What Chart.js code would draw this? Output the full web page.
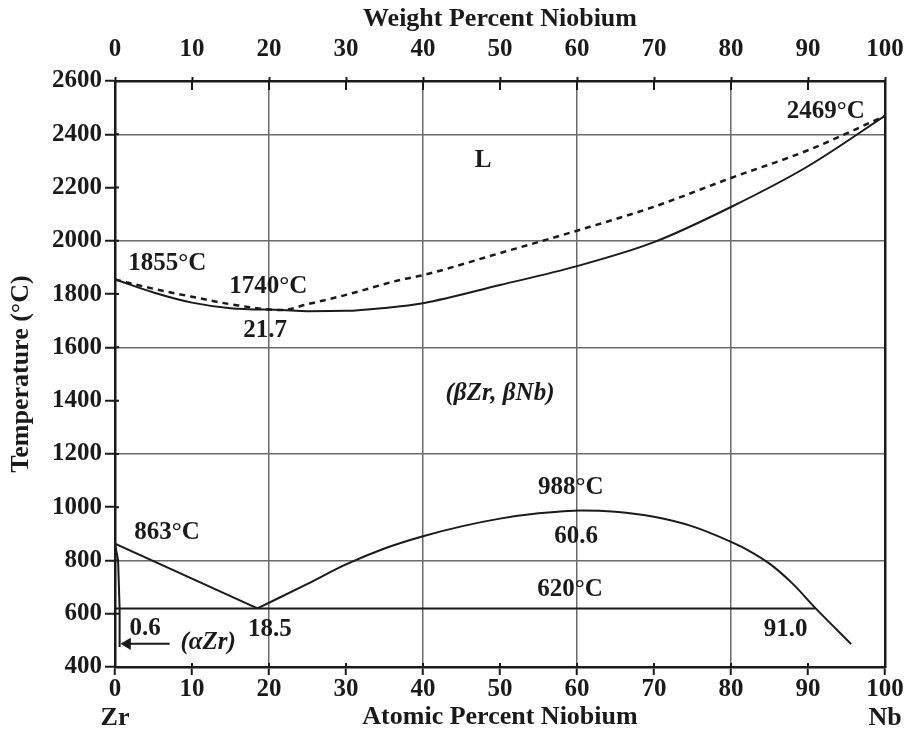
<!DOCTYPE html>
<html>
<head>
<meta charset="utf-8">
<title>Zr-Nb phase diagram</title>
<script src="https://cdn.jsdelivr.net/npm/chart.js@4.4.1/dist/chart.umd.min.js"></script>
<style>
  html, body { margin: 0; padding: 0; background: #fff; }
  #wrap { width: 907px; height: 735px; }
</style>
</head>
<body>
<div id="wrap"><canvas id="phaseChart" width="907" height="735"></canvas></div>
<script>
// atomic percent Nb / temperature in °C
const liquidusX = [0, 5, 10, 15, 21.7, 25, 30, 37, 40, 50, 60, 70, 80, 90, 100];
const liquidusT = [1855, 1820, 1790, 1762, 1740, 1762, 1797, 1853, 1871, 1954, 2038, 2128, 2236, 2340, 2469];

const solidusX = [0, 5, 10, 15, 21.7, 25, 30, 35, 40, 50, 60, 70, 80, 90, 100];
const solidusT = [1855, 1806, 1768, 1747, 1740, 1736, 1737, 1748, 1766, 1834, 1905, 1995, 2127, 2280, 2469];

const betaZrX = [0, 18.5];
const betaZrT = [863, 620];

const domeX = [18.5, 25, 30, 35, 40, 45, 50, 55, 60.6, 65, 70, 75, 80, 82, 85, 88, 91, 95.6];
const domeT = [620, 712, 785, 845, 891, 928, 957, 977, 988, 983, 964, 928, 870, 842, 788, 713, 620, 486];

const alphaZrX = [0, 0.4, 0.6, 0.6];
const alphaZrT = [863, 800, 620, 475];

const eutectoidX = [0, 91.0];
const eutectoidT = [620, 620];

const arrowX = [7.1, 1.6];
const arrowT = [487, 487];

const tickStepX = 10;
const tickStepT = 200;
const gridX = [20, 40, 60, 80];
const gridT = [800, 1200, 1600, 2000, 2400];

// text placed on the diagram, in data units
const notes = [
  { text: 'L', x: 47.8, y: 2303 },
  { text: '2469°C', x: 92.3, y: 2484 },
  { text: '1855°C', x: 6.8, y: 1915 },
  { text: '1740°C', x: 19.9, y: 1830 },
  { text: '21.7', x: 19.5, y: 1665 },
  { text: '(βZr, βNb)', x: 50, y: 1425, italic: true, size: 25 },
  { text: '988°C', x: 59.2, y: 1075 },
  { text: '60.6', x: 59.9, y: 891 },
  { text: '620°C', x: 59.1, y: 689 },
  { text: '91.0', x: 87.1, y: 542 },
  { text: '863°C', x: 6.75, y: 906 },
  { text: '18.5', x: 20.1, y: 542 },
  { text: '0.6', x: 3.9, y: 546 },
  { text: '(αZr)', x: 12.1, y: 490, italic: true, size: 25 }
];

const SERIF = '"Liberation Serif", "Times New Roman", Times, serif';
const INK = '#1a1a1a';
const GRID = '#6a6a6a';

const pts = (xs, ys) => xs.map((x, i) => ({ x: x, y: ys[i] }));

function curve(data, extra) {
  return Object.assign({
    data: data,
    borderColor: INK,
    borderWidth: 2,
    pointRadius: 0,
    fill: false,
    cubicInterpolationMode: 'monotone'
  }, extra || {});
}

const tickFont = { family: SERIF, size: 25, weight: 'bold' };
const titleFont = { family: SERIF, size: 26, weight: 'bold' };
const plainNumber = v => String(v);

// tick stubs that poke into the plot area
const innerTicks = {
  id: 'innerTicks',
  afterDraw(chart) {
    const { ctx, chartArea: a, scales } = chart;
    ctx.save();
    ctx.strokeStyle = INK;
    ctx.lineWidth = 2;
    ctx.beginPath();
    scales.x.ticks.forEach(t => {
      const px = scales.x.getPixelForValue(t.value);
      ctx.moveTo(px, a.bottom);
      ctx.lineTo(px, a.bottom - 4);
    });
    scales.x2.ticks.forEach(t => {
      const px = scales.x2.getPixelForValue(t.value);
      ctx.moveTo(px, a.top);
      ctx.lineTo(px, a.top + 9);
    });
    scales.y.ticks.forEach(t => {
      const py = scales.y.getPixelForValue(t.value);
      ctx.moveTo(a.left, py);
      ctx.lineTo(a.left + 4, py);
    });
    ctx.stroke();
    ctx.restore();
  }
};

// region and point labels, plus the element names under the axis ends
const noteLabels = {
  id: 'noteLabels',
  afterDraw(chart) {
    const { ctx, scales } = chart;
    ctx.save();
    ctx.fillStyle = INK;
    ctx.textAlign = 'center';
    ctx.textBaseline = 'middle';
    notes.forEach(n => {
      ctx.font = (n.italic ? 'italic ' : '') + 'bold ' + (n.size || 25) + 'px ' + SERIF;
      ctx.fillText(n.text, scales.x.getPixelForValue(n.x), scales.y.getPixelForValue(n.y));
    });
    ctx.font = 'bold 26px ' + SERIF;
    const yName = scales.x.bottom - 17;
    ctx.fillText('Zr', scales.x.getPixelForValue(0), yName);
    ctx.fillText('Nb', scales.x.getPixelForValue(100), yName);
    ctx.restore();
  }
};

const xGridColor = c => gridX.includes(c.tick.value) ? GRID : 'rgba(0,0,0,0)';
const yGridColor = c => gridT.includes(c.tick.value) ? GRID : 'rgba(0,0,0,0)';

// let the end labels hang past the plot instead of shrinking it
function fitHorizontal(h) {
  return s => { s.height = h; s.paddingLeft = 0; s.paddingRight = 0; };
}

new Chart(document.getElementById('phaseChart'), {
  type: 'line',
  data: {
    datasets: [
      curve(pts(liquidusX, liquidusT), { borderDash: [6, 5], borderWidth: 2.5 }),
      curve(pts(solidusX, solidusT)),
      curve(pts(betaZrX, betaZrT), { cubicInterpolationMode: 'default', tension: 0 }),
      curve(pts(domeX, domeT)),
      curve(pts(alphaZrX, alphaZrT), { cubicInterpolationMode: 'default', tension: 0 }),
      curve(pts(eutectoidX, eutectoidT), { cubicInterpolationMode: 'default', tension: 0 }),
      curve(pts(arrowX, arrowT), {
        cubicInterpolationMode: 'default', tension: 0,
        pointRadius: [0, 5], pointStyle: 'triangle', rotation: -90,
        pointBackgroundColor: INK, pointBorderColor: INK
      })
    ]
  },
  options: {
    responsive: false,
    animation: false,
    layout: { padding: 0 },
    plugins: { legend: { display: false }, tooltip: { enabled: false } },
    scales: {
      x: {
        type: 'linear', position: 'bottom', min: 0, max: 100,
        afterFit: fitHorizontal(68),
        ticks: { stepSize: tickStepX, font: tickFont, color: INK, padding: 0, maxRotation: 0, callback: plainNumber },
        grid: { color: xGridColor, lineWidth: 1.5, tickColor: INK, tickLength: 8, tickWidth: 2 },
        border: { color: INK, width: 2.5 },
        title: { display: true, text: 'Atomic Percent Niobium', font: titleFont, color: INK, padding: { top: 0, bottom: 2 } }
      },
      x2: {
        type: 'linear', position: 'top', min: 0, max: 100,
        afterFit: fitHorizontal(81),
        ticks: { stepSize: tickStepX, font: tickFont, color: INK, padding: 12, maxRotation: 0, callback: plainNumber },
        grid: { drawOnChartArea: false, tickColor: INK, tickLength: 4, tickWidth: 2 },
        border: { color: INK, width: 2.5 },
        title: { display: true, text: 'Weight Percent Niobium', font: titleFont, color: INK, padding: { top: 4, bottom: 0 } }
      },
      y: {
        type: 'linear', position: 'left', min: 400, max: 2600,
        afterFit: s => { s.width = 115; },
        ticks: { stepSize: tickStepT, font: tickFont, color: INK, padding: 3, callback: plainNumber },
        grid: { color: yGridColor, lineWidth: 1.5, tickColor: INK, tickLength: 10, tickWidth: 2 },
        border: { color: INK, width: 2.5 },
        title: { display: true, text: 'Temperature (°C)', font: titleFont, color: INK, padding: { top: 6, bottom: 0 } }
      },
      y2: {
        type: 'linear', position: 'right', min: 400, max: 2600,
        afterFit: s => { s.width = 22; },
        ticks: { display: false },
        grid: { drawOnChartArea: false, drawTicks: false },
        border: { color: INK, width: 2.5 }
      }
    }
  },
  plugins: [innerTicks, noteLabels]
});
</script>
</body>
</html>
